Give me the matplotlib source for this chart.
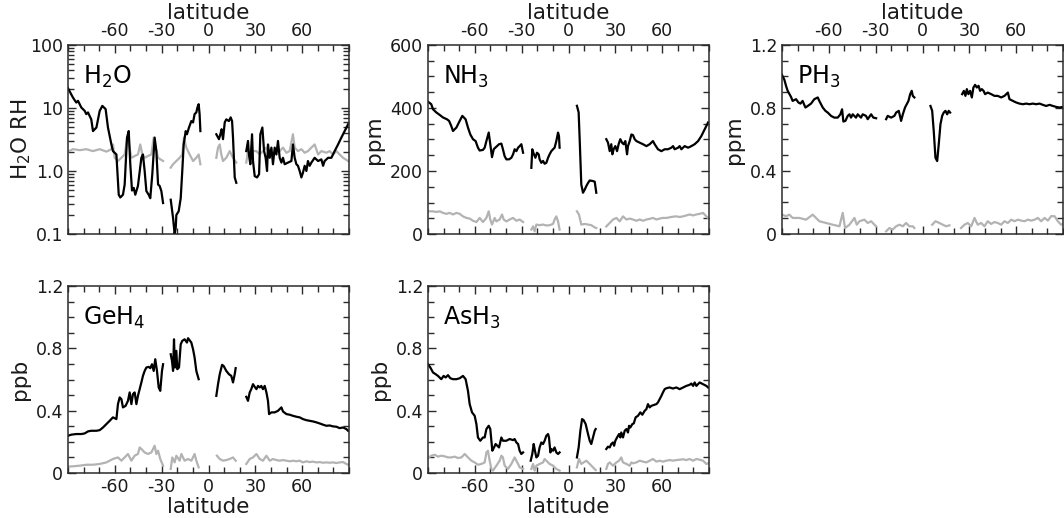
import numpy as np
import matplotlib.pyplot as plt
from matplotlib.ticker import MultipleLocator, LogLocator, NullFormatter

plt.rcParams['font.family'] = 'DejaVu Sans'
plt.rcParams['mathtext.default'] = 'regular'

# every profile is split into four latitude bands (gaps near -27, 0 and 21 deg)

# ---- H2O relative humidity (log scale) ----
h2o_lat = [
    [-90, -86.8, -84.7, -83.6, -81.5, -79.3, -78.3, -77.2, -75.1, -74.0, -71.8, -69.7, -68.0, -65.9,
     -64.4, -62.2, -61.2, -59.0, -57.5, -56.5, -54.8, -53.7, -52.2, -51.1, -50.1, -49.0, -47.9, -46.9,
     -45.2, -43.0, -42.0, -40.9, -39.8, -38.3, -37.3, -36.0, -34.5, -33.4, -32.3, -31.3, -30.2, -29.1],
    [-24.2, -22.7, -21.7, -21.0, -20.6, -19.1, -17.8, -16.8, -15.9, -14.6, -13.8, -12.5, -11.0, -9.9,
     -8.9, -7.8, -7.1, -6.3, -5.7, -5.2],
    [5.0, 6.7, 7.6, 8.4, 9.3, 10.4, 11.4, 13.1, 14.2, 15.1, 15.7, 16.8, 17.8],
    [24.2, 25.3, 25.9, 26.8, 27.9, 28.5, 29.6, 31.1, 32.4, 33.2, 34.5, 35.6, 36.6, 37.5, 38.1, 39.2,
     40.3, 41.3, 42.4, 43.5, 44.5, 45.6, 46.7, 47.7, 48.8, 50.9, 53.1, 54.1, 55.2, 56.3, 57.3, 58.4,
     59.5, 60.5, 61.6, 62.7, 63.7, 64.8, 65.9, 68.0, 70.2, 72.3, 73.4, 74.4, 76.6, 78.7, 80.8, 83.0,
     85.1, 87.2, 89.4],
]
h2o_val = [
    [20.6, 14.6, 12.2, 13.0, 10.2, 9.0, 8.0, 8.5, 6.6, 4.3, 4.9, 9.0, 10.8, 9.6,
     4.9, 2.64, 2.07, 1.83, 0.42, 0.38, 0.42, 0.61, 3.39, 4.3, 1.28, 0.49, 0.54, 0.42,
     0.58, 1.62, 1.83, 1.0, 0.48, 0.42, 0.37, 0.89, 3.39, 2.07, 0.61, 0.58, 0.48, 0.31],
    [0.35, 0.18, 0.10, 0.125, 0.20, 0.23, 0.37, 1.0, 2.64, 4.3, 3.83, 4.9, 6.2, 5.9,
     8.0, 8.5, 10.2, 11.5, 8.0, 4.3],
    [3.83, 3.2, 3.83, 4.6, 3.2, 5.9, 6.6, 6.2, 7.1, 6.2, 3.39, 0.79, 0.65],
    [2.07, 3.0, 1.83, 1.28, 3.83, 1.44, 0.83, 0.79, 0.89, 3.83, 4.9, 2.07, 1.62, 1.0, 2.64, 1.62,
     2.35, 1.28, 2.35, 1.83, 3.0, 1.62, 1.36, 1.62, 1.28, 1.36, 1.44, 2.64, 1.62, 1.28, 1.21, 1.0,
     0.79, 0.94, 1.21, 1.0, 1.44, 1.21, 1.36, 1.62, 1.44, 1.53, 1.21, 1.44, 1.62, 1.62, 2.07, 2.64,
     3.39, 4.3, 5.5],
]
h2o_err_lat = [
    [-90, -86.8, -82.5, -78.3, -74.0, -69.7, -65.4, -62.2, -61.2, -60.1, -58.0, -55.8, -53.7, -52.0,
     -50.9, -49.4, -47.3, -45.2, -43.7, -42.4, -40.9, -38.8, -36.6, -35.1, -33.8, -32.3, -29.1],
    [-24.2, -22.7, -20.6, -18.5, -16.8, -15.7, -14.2, -12.1, -9.9, -7.8, -6.3, -5.2],
    [5.0, 6.1, 7.2, 8.2, 9.3, 11.4, 13.6, 15.7, 17.8],
    [24.2, 25.3, 26.8, 28.5, 30.7, 32.8, 34.9, 37.1, 39.2, 41.3, 43.5, 45.6, 47.7, 49.9, 52.0, 54.1,
     55.2, 57.3, 59.5, 61.6, 63.7, 65.9, 68.0, 70.2, 72.3, 75.5, 77.6, 79.8, 81.9, 84.0, 86.2, 89.4],
]
h2o_err = [
    [2.03, 2.22, 2.14, 2.22, 2.07, 2.22, 2.03, 2.22, 2.64, 1.62, 1.44, 1.62, 1.83, 3.39,
     2.64, 1.62, 1.73, 1.83, 2.64, 1.83, 1.62, 1.73, 1.83, 3.39, 2.35, 1.62, 1.44],
    [1.13, 1.28, 1.44, 1.62, 1.83, 3.39, 2.35, 1.83, 1.44, 1.62, 1.83, 1.28],
    [1.62, 2.35, 2.64, 1.83, 1.44, 1.62, 2.07, 1.62, 1.36],
    [1.36, 2.07, 1.62, 2.07, 2.07, 1.83, 2.07, 2.35, 1.95, 1.83, 2.07, 2.07, 2.35, 1.95, 2.07, 3.83,
     2.35, 2.07, 2.22, 1.95, 2.07, 2.35, 2.64, 1.83, 2.07, 1.95, 2.07, 1.83, 2.07, 1.83, 1.62, 1.44],
]

# ---- NH3 (ppm) ----
nh3_lat = [
    [-90, -87.9, -86.8, -84.7, -82.5, -80.4, -77.8, -76.5, -75.1, -74.0, -71.8, -69.7, -68.0, -65.9,
     -64.4, -62.9, -61.2, -59.5, -58.0, -56.9, -54.8, -53.7, -52.6, -51.1, -50.1, -49.0, -47.9,
     -46.9, -45.8, -44.5, -43.0, -42.0, -40.9, -39.8, -38.1, -36.6, -35.5, -34.5, -33.4, -32.3,
     -31.3, -30.2, -29.1],
    [-23.8, -23.2, -22.3, -21.2, -20.2, -19.1, -18.5, -17.4, -16.3, -15.3, -14.2, -13.1, -12.1,
     -11.0, -9.9, -8.9, -7.8, -6.7, -6.1, -5.7],
    [5.4, 6.5, 7.2, 8.2, 9.3, 10.4, 11.4, 12.5, 13.6, 15.7, 16.8, 17.8],
    [24.2, 25.3, 26.4, 27.4, 28.1, 28.9, 30.0, 31.1, 32.1, 33.2, 34.3, 35.3, 36.4, 37.5, 38.1, 39.2,
     40.3, 41.3, 42.4, 43.5, 45.6, 47.7, 49.9, 52.0, 54.1, 55.2, 57.3, 59.5, 61.6, 63.7, 65.9, 67.0,
     68.0, 70.2, 71.2, 72.3, 74.4, 76.6, 78.7, 80.8, 83.0, 85.1, 87.2, 89.4],
]
nh3_val = [
    [420, 412, 396, 386, 378, 370, 364, 359, 343, 327, 338, 359, 375, 364,
     338, 316, 301, 295, 274, 265, 267, 274, 295, 322, 285, 244, 269,
     274, 279, 285, 287, 269, 247, 237, 237, 242, 253, 269, 263, 274,
     279, 285, 258],
    [210, 269, 255, 242, 258, 253, 237, 226, 232, 223, 226, 242, 253,
     263, 269, 274, 295, 322, 311, 274],
    [407, 386, 295, 157, 131, 141, 152, 162, 170, 168, 166, 131],
    [301, 290, 263, 285, 253, 269, 279, 263, 285, 301, 290, 285, 295, 253, 279, 295,
     316, 314, 301, 295, 290, 285, 279, 285, 295, 285, 269, 263, 269, 269, 274, 279,
     269, 274, 279, 269, 279, 274, 279, 285, 295, 311, 332, 354],
]
nh3_err_lat = [
    [-90, -86.8, -84.7, -82.5, -80.4, -78.3, -76.1, -74.0, -71.8, -69.7, -67.6, -65.4, -63.3, -61.2,
     -59.0, -56.9, -54.8, -52.6, -51.1, -50.1, -49.0, -47.3, -46.2, -44.1, -42.6, -41.5, -39.8,
     -37.7, -35.5, -33.4, -31.3, -29.1],
    [-23.8, -22.7, -21.7, -20.6, -18.5, -16.3, -14.2, -12.1, -9.9, -8.9, -7.8, -6.7, -5.7],
    [5.4, 6.7, 8.2, 10.4, 12.5, 14.6, 16.8, 17.8],
    [24.2, 26.4, 28.5, 30.7, 32.8, 34.9, 37.1, 39.2, 41.3, 43.5, 45.6, 47.7, 49.9, 52.0, 54.1, 56.3,
     58.4, 60.5, 62.7, 64.8, 67.0, 69.1, 71.2, 73.4, 75.5, 77.6, 79.8, 81.9, 84.0, 86.2, 88.3, 89.4],
]
nh3_err = [
    [72, 72, 70, 72, 67, 64, 67, 62, 67, 64, 56, 51, 49, 42,
     38, 51, 38, 51, 72, 46, 30, 51, 40, 46, 62, 46, 40,
     46, 51, 42, 46, 38],
    [14, 24, 8, 30, 28, 30, 27, 28, 32, 46, 56, 40, 14],
    [72, 62, 30, 32, 30, 28, 21, 19],
    [24, 35, 46, 51, 40, 56, 46, 49, 46, 42, 46, 42, 46, 48, 51, 46,
     49, 51, 51, 53, 55, 56, 54, 56, 59, 62, 59, 62, 64, 67, 56, 51],
]

# ---- PH3 (ppm) ----
ph3_lat = [
    [-90, -88.5, -87.4, -86.4, -85.3, -84.2, -83.2, -81.0, -79.5, -78.2, -76.8, -75.0, -73.5, -71.4,
     -69.3, -67.1, -66.1, -65.0, -63.9, -62.2, -60.7, -58.6, -56.5, -54.3, -52.6, -51.5, -50.7,
     -49.4, -47.9, -46.8, -45.8, -44.7, -42.6, -41.5, -39.4, -38.3, -36.2, -35.1, -32.9, -31.5, -29.7],
    [-23.3, -22.3, -20.1, -18.0, -16.9, -15.2, -13.7, -12.6, -11.2, -10.1, -9.0, -7.9, -6.9, -6.2, -5.2],
    [5.1, 6.2, 7.2, 8.3, 9.4, 10.4, 11.5, 12.6, 13.6, 14.7, 15.8, 16.8, 17.7],
    [25.4, 26.5, 27.5, 28.4, 29.4, 30.5, 31.6, 32.6, 33.7, 34.8, 35.9, 36.9, 38.0, 39.1, 40.1, 41.8,
     44.0, 46.1, 48.2, 50.4, 52.5, 54.7, 55.7, 57.9, 60.0, 62.1, 64.3, 66.4, 68.5, 70.7, 72.8, 75.0,
     77.1, 79.2, 81.4, 83.5, 85.6, 87.8, 89.9],
]
ph3_val = [
    [1.01, 0.98, 0.94, 0.91, 0.89, 0.87, 0.845, 0.856, 0.835, 0.828, 0.845, 0.803, 0.813, 0.828,
     0.856, 0.867, 0.845, 0.824, 0.803, 0.782, 0.771, 0.75, 0.739, 0.739, 0.76, 0.792, 0.714,
     0.718, 0.75, 0.76, 0.739, 0.76, 0.739, 0.76, 0.739, 0.76, 0.75, 0.729, 0.76, 0.739, 0.735],
    [0.729, 0.75, 0.739, 0.75, 0.771, 0.782, 0.718, 0.76, 0.803, 0.824, 0.845, 0.888, 0.909, 0.877, 0.867],
    [0.813, 0.782, 0.654, 0.484, 0.463, 0.569, 0.697, 0.75, 0.771, 0.782, 0.76, 0.782, 0.771],
    [0.888, 0.909, 0.877, 0.92, 0.888, 0.909, 0.867, 0.93, 0.947, 0.93, 0.941, 0.909, 0.92, 0.909,
     0.888, 0.898, 0.888, 0.877, 0.877, 0.867, 0.877, 0.898, 0.856, 0.845, 0.835, 0.828, 0.824,
     0.828, 0.824, 0.828, 0.824, 0.828, 0.82, 0.813, 0.82, 0.813, 0.807, 0.803, 0.807],
]
ph3_err_lat = [
    [-90, -87.4, -85.3, -83.2, -78.9, -74.6, -70.3, -68.2, -66.1, -61.8, -57.5, -53.2, -51.1, -49.6,
     -46.8, -43.6, -42.1, -40.4, -37.2, -35.1, -32.9, -30.8, -29.7],
    [-23.3, -21.2, -19.1, -16.9, -14.8, -12.6, -10.5, -8.4, -6.2, -5.2],
    [6.2, 8.3, 10.8, 13.0, 15.1, 17.3],
    [24.7, 26.9, 29.0, 31.2, 33.3, 35.4, 37.6, 39.7, 41.8, 44.0, 46.1, 48.2, 50.4, 52.5, 54.7, 56.8,
     58.9, 61.1, 63.2, 65.3, 67.5, 69.6, 71.8, 73.9, 76.0, 78.2, 80.3, 82.4, 84.6, 86.7, 88.8, 89.9],
]
ph3_err = [
    [0.123, 0.113, 0.123, 0.102, 0.102, 0.091, 0.123, 0.102, 0.081, 0.07, 0.059, 0.049, 0.134, 0.038,
     0.059, 0.102, 0.059, 0.081, 0.091, 0.07, 0.081, 0.059, 0.049],
    [0.017, 0.038, 0.028, 0.049, 0.059, 0.049, 0.07, 0.049, 0.049, 0.038],
    [0.059, 0.081, 0.07, 0.059, 0.049, 0.055],
    [0.038, 0.059, 0.07, 0.049, 0.102, 0.059, 0.07, 0.049, 0.081, 0.064, 0.076, 0.07, 0.059, 0.081,
     0.07, 0.091, 0.081, 0.091, 0.085, 0.081, 0.091, 0.085, 0.091, 0.102, 0.081, 0.102, 0.085,
     0.113, 0.113, 0.081, 0.059, 0.064],
]

# ---- GeH4 (ppb) ----
geh4_lat = [
    [-90, -87.9, -84.7, -81.5, -79.3, -77.2, -75.1, -71.8, -69.7, -67.6, -65.4, -63.3, -61.2, -59.0,
     -58.0, -56.9, -55.8, -54.8, -53.1, -51.6, -50.5, -49.4, -48.4, -47.3, -46.2, -45.2, -44.1,
     -43.0, -42.0, -40.9, -39.8, -38.3, -37.3, -36.2, -35.1, -34.1, -33.0, -31.9, -30.9, -29.8, -29.1],
    [-24.2, -23.4, -22.7, -22.1, -21.5, -20.6, -20.0, -18.9, -17.8, -16.8, -15.3, -13.8, -13.1,
     -12.1, -11.0, -9.9, -8.9, -7.8, -6.3],
    [5.0, 6.1, 7.2, 8.7, 9.7, 11.4, 13.1, 14.6, 15.7, 16.8, 17.4],
    [24.2, 25.3, 26.4, 27.4, 28.5, 29.6, 30.7, 31.7, 32.8, 33.8, 34.9, 36.0, 37.1, 38.1, 38.8, 40.3,
     42.4, 44.5, 46.7, 47.7, 49.9, 52.0, 54.1, 56.3, 58.4, 60.5, 62.7, 64.8, 66.9, 69.1, 71.2, 73.4,
     75.5, 77.6, 79.8, 81.9, 84.0, 86.2, 88.3, 89.4],
]
geh4_val = [
    [0.239, 0.246, 0.25, 0.25, 0.254, 0.267, 0.271, 0.271, 0.275, 0.292, 0.314, 0.335, 0.357, 0.346,
     0.442, 0.485, 0.474, 0.421, 0.431, 0.463, 0.517, 0.442, 0.506, 0.517, 0.442, 0.495, 0.538,
     0.581, 0.623, 0.655, 0.677, 0.681, 0.673, 0.698, 0.655, 0.73, 0.655, 0.549, 0.527, 0.655, 0.698],
    [0.762, 0.72, 0.655, 0.858, 0.677, 0.784, 0.666, 0.677, 0.826, 0.848, 0.858, 0.837, 0.865,
     0.852, 0.837, 0.794, 0.741, 0.655, 0.602],
    [0.495, 0.57, 0.634, 0.694, 0.687, 0.655, 0.634, 0.623, 0.581, 0.634, 0.673],
    [0.489, 0.463, 0.517, 0.538, 0.57, 0.553, 0.538, 0.559, 0.549, 0.559, 0.538, 0.559, 0.517, 0.463,
     0.378, 0.389, 0.389, 0.399, 0.421, 0.395, 0.378, 0.374, 0.367, 0.361, 0.357, 0.346, 0.339,
     0.335, 0.331, 0.325, 0.318, 0.31, 0.303, 0.305, 0.299, 0.297, 0.288, 0.292, 0.282, 0.271],
]
geh4_err_lat = [
    [-90, -86.8, -82.5, -78.3, -74.0, -69.7, -65.4, -61.2, -58.0, -55.8, -53.7, -51.6, -49.4, -47.3,
     -45.2, -44.1, -43.0, -40.9, -38.8, -36.6, -34.5, -33.4, -32.3, -30.9, -29.1],
    [-24.2, -23.2, -21.7, -20.6, -18.5, -17.4, -15.3, -13.1, -11.0, -8.9, -7.8, -6.3],
    [5.4, 7.2, 9.3, 11.4, 13.6, 15.7, 17.4],
    [24.2, 26.4, 28.5, 30.7, 32.8, 34.9, 37.1, 39.2, 41.3, 43.5, 45.6, 47.7, 49.9, 52.0, 54.1, 56.3,
     58.4, 60.5, 62.7, 64.8, 66.9, 69.1, 71.2, 73.4, 75.5, 77.6, 79.8, 81.9, 84.0, 86.2, 88.3, 89.4],
]
geh4_err = [
    [0.041, 0.043, 0.047, 0.053, 0.053, 0.058, 0.068, 0.09, 0.1, 0.079, 0.1, 0.122, 0.079, 0.111,
     0.122, 0.164, 0.154, 0.132, 0.122, 0.132, 0.175, 0.122, 0.143, 0.09, 0.047],
    [0.026, 0.1, 0.068, 0.111, 0.079, 0.122, 0.079, 0.09, 0.079, 0.122, 0.079, 0.036],
    [0.111, 0.09, 0.079, 0.083, 0.09, 0.1, 0.079],
    [0.058, 0.09, 0.1, 0.122, 0.09, 0.079, 0.111, 0.079, 0.09, 0.083, 0.079, 0.083, 0.079, 0.075,
     0.079, 0.075, 0.079, 0.068, 0.075, 0.07, 0.073, 0.068, 0.07, 0.066, 0.068, 0.066, 0.068,
     0.064, 0.068, 0.07, 0.058, 0.053],
]

# ---- AsH3 (ppb) ----
ash3_lat = [
    [-90, -88.5, -86.8, -85.1, -83.6, -81.5, -80.0, -78.7, -77.2, -75.7, -74.0, -71.8, -69.7, -67.6,
     -65.9, -64.4, -63.3, -61.8, -60.1, -59.0, -58.0, -56.5, -54.8, -53.7, -52.6, -51.1, -50.1,
     -48.8, -47.7, -46.7, -45.6, -44.5, -43.0, -42.0, -39.8, -37.7, -35.5, -34.5, -33.4, -32.3,
     -31.3, -30.2, -29.1],
    [-24.2, -23.2, -22.3, -21.5, -20.6, -19.5, -18.5, -17.4, -16.3, -15.3, -14.2, -13.1, -12.5,
     -11.6, -11.0, -9.9, -8.9, -7.8, -6.7, -5.7],
    [5.4, 6.5, 7.6, 8.7, 9.7, 11.0, 12.5, 13.6, 14.6, 15.7, 16.8, 17.4],
    [24.2, 25.3, 26.4, 27.4, 28.5, 29.2, 30.0, 31.1, 32.4, 33.2, 33.8, 34.9, 36.0, 37.1, 38.1, 38.8,
     39.6, 40.9, 41.8, 43.0, 44.5, 46.0, 47.3, 48.8, 49.9, 50.9, 52.0, 53.1, 55.2, 56.3, 57.3, 58.4,
     59.5, 60.5, 61.6, 62.7, 64.8, 66.9, 69.1, 71.2, 73.4, 75.5, 77.6, 78.7, 79.8, 80.8, 81.9, 83.0,
     84.0, 86.2, 88.3, 89.4],
]
ash3_val = [
    [0.698, 0.677, 0.645, 0.634, 0.623, 0.602, 0.623, 0.613, 0.628, 0.608, 0.602, 0.602, 0.608, 0.623,
     0.602, 0.527, 0.442, 0.389, 0.367, 0.314, 0.228, 0.207, 0.228, 0.228, 0.282, 0.303, 0.282,
     0.143, 0.164, 0.186, 0.175, 0.164, 0.228, 0.207, 0.207, 0.218, 0.211, 0.218, 0.196, 0.186,
     0.143, 0.122, 0.132],
    [0.079, 0.122, 0.186, 0.143, 0.1, 0.111, 0.164, 0.196, 0.186, 0.207, 0.239, 0.25, 0.228,
     0.132, 0.154, 0.143, 0.164, 0.132, 0.122, 0.132],
    [0.1, 0.164, 0.271, 0.346, 0.339, 0.314, 0.25, 0.207, 0.186, 0.228, 0.271, 0.282],
    [0.154, 0.169, 0.164, 0.186, 0.196, 0.175, 0.207, 0.228, 0.25, 0.228, 0.26, 0.228, 0.271, 0.282,
     0.26, 0.303, 0.292, 0.314, 0.318, 0.357, 0.367, 0.389, 0.374, 0.399, 0.41, 0.442, 0.421, 0.431,
     0.438, 0.442, 0.453, 0.474, 0.495, 0.517, 0.538, 0.544, 0.549, 0.542, 0.549, 0.538, 0.549,
     0.559, 0.566, 0.574, 0.559, 0.581, 0.559, 0.57, 0.581, 0.57, 0.559, 0.549],
]
ash3_err_lat = [
    [-90, -87.9, -85.7, -83.6, -81.5, -79.3, -77.2, -75.1, -72.9, -70.8, -68.6, -66.5, -64.4, -62.2,
     -60.1, -58.0, -55.8, -53.7, -52.6, -51.6, -50.5, -49.4, -48.4, -46.2, -44.1, -43.0, -42.0,
     -40.9, -38.8, -36.6, -34.5, -33.4, -32.3, -31.3, -29.1],
    [-23.8, -22.7, -21.7, -20.6, -18.5, -16.3, -15.3, -14.2, -12.1, -9.9, -7.8, -5.7],
    [5.4, 6.7, 8.2, 9.7, 11.4, 13.6, 15.7, 17.4],
    [24.2, 25.3, 26.4, 28.5, 30.7, 32.4, 33.8, 34.9, 37.1, 39.2, 40.3, 41.3, 43.5, 45.6, 47.7, 49.9,
     52.0, 54.1, 56.3, 58.4, 60.5, 62.7, 64.8, 66.9, 69.1, 71.2, 73.4, 75.5, 77.6, 79.8, 81.9, 84.0,
     86.2, 88.3, 89.4],
]
ash3_err = [
    [0.096, 0.111, 0.117, 0.105, 0.111, 0.107, 0.1, 0.1, 0.105, 0.096, 0.1, 0.122, 0.1, 0.079,
     0.068, 0.053, 0.058, 0.068, 0.132, 0.143, 0.079, 0.026, 0.015, 0.047, 0.079, 0.111, 0.1,
     0.047, 0.026, 0.058, 0.1, 0.079, 0.058, 0.036, 0.026],
    [0.026, 0.058, 0.015, 0.047, 0.058, 0.068, 0.09, 0.079, 0.058, 0.047, 0.026, 0.015],
    [0.036, 0.09, 0.058, 0.068, 0.079, 0.058, 0.036, 0.019],
    [0.026, 0.058, 0.068, 0.047, 0.068, 0.079, 0.1, 0.068, 0.058, 0.047, 0.068, 0.062, 0.068, 0.079,
     0.073, 0.068, 0.079, 0.09, 0.073, 0.079, 0.073, 0.079, 0.083, 0.079, 0.083, 0.085, 0.088,
     0.083, 0.09, 0.079, 0.09, 0.085, 0.079, 0.058, 0.062],
]

lat_ticks = [-60, -30, 0, 30, 60]
BLACK = '#000000'
GREY = '#b3b3b3'
SPINE = '#2b2b2b'
TXT = '#1a1a1a'


def join(segs):
    # glue the latitude bands together with NaN so the gaps stay open
    out = []
    for s in segs:
        out.extend(s)
        out.append(np.nan)
    return np.array(out[:-1], dtype=float)


def style_axis(ax, top_row):
    ax.set_xlim(-90, 90)
    ax.set_xticks(lat_ticks)
    ax.set_xticklabels([str(t) for t in lat_ticks])
    ax.xaxis.set_minor_locator(MultipleLocator(10))
    for s in ax.spines.values():
        s.set_color(SPINE)
        s.set_linewidth(1.1)
    ax.tick_params(which='both', direction='in', top=True, right=True, color=SPINE,
                   width=1.0, labelsize=12.5, labelcolor=TXT)
    ax.tick_params(which='major', length=5.5)
    ax.tick_params(which='minor', length=4.5)
    if top_row:
        ax.tick_params(labeltop=True, labelbottom=False)
        ax.xaxis.set_label_position('top')
        ax.set_xlabel('latitude', fontsize=15.5, color=TXT, labelpad=2)
    else:
        ax.set_xlabel('latitude', fontsize=15.5, color=TXT, labelpad=1)


def draw(ax, lat, val, err_lat, err):
    ax.plot(join(err_lat), join(err), color=GREY, lw=1.6)
    ax.plot(join(lat), join(val), color=BLACK, lw=1.6)


fig = plt.figure(figsize=(10.64, 5.18), dpi=100)
W, H = 1064, 518
pw, ph = 281, 189
ax1 = fig.add_axes([68 / W, (H - 45 - ph) / H, pw / W, ph / H])
ax2 = fig.add_axes([428 / W, (H - 45 - ph) / H, pw / W, ph / H])
ax3 = fig.add_axes([782 / W, (H - 45 - ph) / H, pw / W, ph / H])
ax4 = fig.add_axes([68 / W, (H - 286 - 187) / H, pw / W, 187 / H])
ax5 = fig.add_axes([428 / W, (H - 286 - 187) / H, pw / W, 187 / H])

# H2O
draw(ax1, h2o_lat, h2o_val, h2o_err_lat, h2o_err)
ax1.set_yscale('log')
ax1.set_ylim(0.1, 100)
ax1.set_yticks([0.1, 1, 10, 100])
ax1.set_yticklabels(['0.1', '1.0', '10', '100'])
ax1.yaxis.set_minor_locator(LogLocator(base=10, subs=np.arange(2, 10)))
ax1.yaxis.set_minor_formatter(NullFormatter())
ax1.set_ylabel('H$_2$O RH', fontsize=15.5, color=TXT, labelpad=-2)
style_axis(ax1, True)
ax1.text(0.055, 0.9, 'H$_2$O', transform=ax1.transAxes, fontsize=17, va='top')

# NH3
draw(ax2, nh3_lat, nh3_val, nh3_err_lat, nh3_err)
ax2.set_ylim(0, 600)
ax2.set_yticks([0, 200, 400, 600])
ax2.yaxis.set_minor_locator(MultipleLocator(50))
ax2.set_ylabel('ppm', fontsize=15.5, color=TXT)
style_axis(ax2, True)
ax2.text(0.055, 0.9, 'NH$_3$', transform=ax2.transAxes, fontsize=17, va='top')

# PH3
draw(ax3, ph3_lat, ph3_val, ph3_err_lat, ph3_err)
ax3.set_ylim(0, 1.2)
ax3.set_yticks([0, 0.4, 0.8, 1.2])
ax3.set_yticklabels(['0', '0.4', '0.8', '1.2'])
ax3.yaxis.set_minor_locator(MultipleLocator(0.1))
ax3.set_ylabel('ppm', fontsize=15.5, color=TXT)
style_axis(ax3, True)
ax3.text(0.055, 0.9, 'PH$_3$', transform=ax3.transAxes, fontsize=17, va='top')

# GeH4 and AsH3
for ax, lat, val, elat, err, name in [
        (ax4, geh4_lat, geh4_val, geh4_err_lat, geh4_err, 'GeH$_4$'),
        (ax5, ash3_lat, ash3_val, ash3_err_lat, ash3_err, 'AsH$_3$')]:
    draw(ax, lat, val, elat, err)
    ax.set_ylim(0, 1.2)
    ax.set_yticks([0, 0.4, 0.8, 1.2])
    ax.set_yticklabels(['0', '0.4', '0.8', '1.2'])
    ax.yaxis.set_minor_locator(MultipleLocator(0.1))
    ax.set_ylabel('ppb', fontsize=15.5, color=TXT)
    style_axis(ax, False)
    ax.text(0.055, 0.9, name, transform=ax.transAxes, fontsize=17, va='top')

fig.savefig('out.png', dpi=100)
